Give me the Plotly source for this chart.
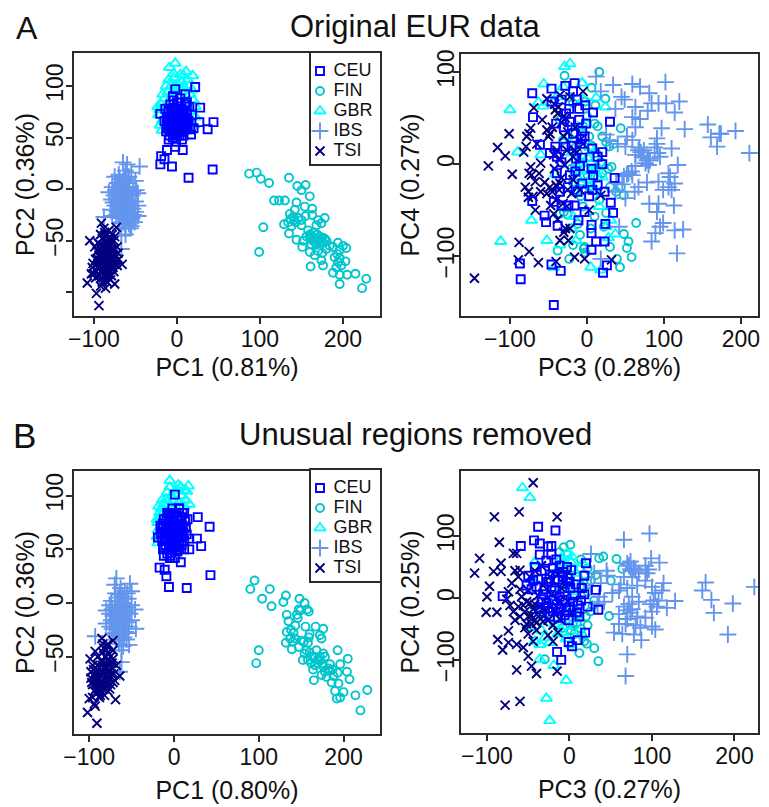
import plotly.graph_objects as go

GROUPS = ["CEU", "FIN", "GBR", "IBS", "TSI"]
COLORS = {"CEU": "#0000ff", "FIN": "#00c5cd", "GBR": "#00ffff", "IBS": "#6495ed", "TSI": "#000080"}
SYMBOLS = {"CEU": "square-open", "FIN": "circle-open", "GBR": "triangle-up-open", "IBS": "cross-thin-open", "TSI": "x-thin-open"}
SIZES = {"CEU": 8, "FIN": 8, "GBR": 10, "IBS": 12, "TSI": 9}
DRAW_ORDER = ["FIN", "GBR", "IBS", "TSI", "CEU"]

# Panel A, PC1 / PC2
A12_CEU = [(22,99),(-2,97),(10,92),(-5,90),(28,79),(27,65),(44,65),(37,58),(20,59),(17,53),(-20,73),(43,19),(14,11),(-6,22),(-20,24),(-19,32),(-15,29),(-12,38),(7,38),(-10,48),(6,48),(-2,41),
(-14,78),(-12,70),(-10,62),(-8,82),(-6,74),(-4,66),(-2,58),(0,84),(2,76),(4,68),(6,60),(8,52),(10,82),(12,74),(14,66),(16,58),(-13,56),(-9,52),(-5,50),(-1,46),(3,52),(-11,66),(-7,60),(-3,72),(1,64),(5,78),(9,70),(13,62),(15,80),(18,72),(-15,66),(-8,70),(-1,78),(3,60),(7,66),(11,58),(-4,86),(4,88),(-6,56),(0,70),(6,74),(-10,76),(2,56),(12,84),
(-9,67),(-5,61),(-1,67),(3,71),(7,57),(11,67),(-7,77),(-3,63),(1,73),(5,63),(9,59),(-11,59),(-6,68),(-2,75),(2,61),(6,69),(10,63),(-8,57),(-4,79),(0,54),(4,73),(8,75),(12,69),(-12,62),(-3,53),(1,59),(5,55),(9,65),(-7,64),(-1,62)]
A12_FIN = [(87,15),(96,16),(101,10),(111,6),(135,11),(145,3),(155,4),(150,-1),(160,-7),(117,-11),(123,-11),(130,-11),(144,-13),(154,-17),(163,-19),(142,-20),(136,-24),(140,-27),(155,-26),(163,-25),(178,-28),(104,-37),(99,-61),(129,-34),(134,-32),(143,-32),(150,-35),(135,-43),(144,-49),(152,-50),(151,-56),(158,-40),(162,-45),(168,-35),(174,-33),(166,-48),(172,-51),(178,-48),(184,-55),(194,-52),(200,-55),(204,-57),(196,-59),(160,-61),(166,-64),(174,-69),(176,-74),(161,-75),(190,-66),(194,-71),(203,-70),(188,-81),(196,-83),(205,-83),(215,-82),(228,-87),(196,-92),(223,-96),
(160,-44),(164,-50),(168,-54),(172,-46),(176,-52),(180,-50),(162,-54),(170,-60),(180,-58),(188,-56),(156,-46),(150,-30),(138,-36),(146,-28),(192,-76),(198,-74),(170,-30),(165,-42),(175,-62),(141,-30),(137,-29),(163,-47),(167,-51),(171,-49),(175,-47),(161,-48),(169,-44),(196,-67),(193,-63)]
A12_GBR = [(-2,122),(-9,118),(11,114),(19,110),(4,111),(-4,108),(6,104),(13,106),(-7,100),(1,102),(9,98),(-11,94),(-3,95),(16,92),(-15,88),(-7,88),(2,90),(20,86),(-19,82),(-23,80),(-12,80),(12,84),(22,80),(-22,72),(-18,57),(-18,66),(-20,62),(22,70),(20,62),(-4,112),(8,110),(-13,100),(15,100),(-1,98),(5,95),(-10,106),(-17,92),(18,96),(-21,77),(17,76)]
A12_IBS = [(-65,26),(-60,24),(-45,22),(-62,18),(-70,14),(-55,16),(-58,12),(-75,12),(-50,8),(-65,8),(-72,6),(-60,6),(-82,-3),(-78,2),(-70,0),(-64,2),(-57,2),(-49,-1),(-47,-4),(-76,-6),(-68,-6),(-61,-4),(-54,-6),(-79,-10),(-72,-12),(-66,-10),(-59,-10),(-50,-12),(-75,-16),(-68,-16),(-62,-16),(-55,-16),(-47,-16),(-80,-20),(-72,-22),(-64,-22),(-58,-22),(-50,-22),(-78,-26),(-70,-28),(-62,-28),(-54,-28),(-47,-26),(-66,-32),(-58,-34),(-51,-32),(-88,-27),(-62,-38),(-55,-36),(-67,-45),(-67,-58),(-70,-38),(-66,-2),(-58,-6),(-72,-4),(-63,12),(-56,-24),
(-74,-1),(-69,-9),(-63,-7),(-56,-11),(-53,-19),(-77,-13),(-71,-17),(-65,-19),(-59,-17),(-73,-25),(-67,-24),(-60,-25),(-52,-25),(-69,-33),(-63,-33),(-55,-30),(-60,0),(-67,4),(-53,-2),(-73,-9),(-57,-14),(-64,-14),(-70,-20),(-61,-20),(-66,-27),(-58,-28),(-56,-38),(-62,-44),(-69,10),(-61,10)]
A12_TSI = [(-108,-91),(-94,-113),(-97,-101),(-75,-92),(-66,-73),(-91,-33),(-73,-37),(-105,-50),(-103,-82),(-98,-86),(-92,-94),(-86,-96),(-80,-88),(-88,-38),(-82,-40),(-92,-44),(-86,-46),(-78,-44),(-95,-52),(-89,-54),(-83,-52),(-76,-50),(-96,-60),(-90,-62),(-84,-60),(-78,-58),(-72,-56),(-98,-68),(-92,-70),(-86,-68),(-80,-66),(-74,-64),(-70,-68),(-102,-76),(-96,-76),(-90,-78),(-84,-76),(-78,-74),(-72,-74),(-100,-82),(-94,-84),(-88,-84),(-82,-82),(-76,-80),(-90,-90),(-84,-90),(-88,-58),(-80,-48),(-86,-72),(-92,-58),(-76,-68),(-82,-56),(-90,-48),(-94,-64),(-84,-84),
(-99,-56),(-93,-66),(-87,-50),(-81,-62),(-75,-58),(-95,-72),(-89,-74),(-83,-70),(-77,-76),(-71,-62),(-101,-72),(-97,-80),(-91,-86),(-85,-80),(-79,-84),(-73,-70),(-87,-42),(-81,-46),(-75,-46),(-93,-54),(-85,-64),(-79,-52),(-89,-66),(-83,-78),(-77,-64),(-91,-72),(-95,-68),(-81,-74),(-87,-60),(-93,-76),(-86,-56),(-80,-58),(-90,-68),(-84,-68),(-78,-68),(-88,-78),(-82,-64),(-76,-72),(-92,-62),(-86,-84)]

# Panel A, PC3 / PC4
A34_CEU = [(-43,-153),(-86,-125),(-87,-108),(-46,-109),(-34,-116),(21,-118),(26,-110),(6,-93),(12,-84),(23,-84),(6,-75),(6,-66),(24,-65),(-11,-61),(-38,-67),(-53,-63),(-55,-56),(-3,-52),(34,-53),(31,-42),(-16,-45),(-24,-45),(-43,-41),(-71,-40),(7,-28),(23,-30),(14,-23),(-6,-21),(36,-15),(8,-12),(6,-5),(20,0),(14,8),(20,13),(7,17),(-6,7),(-61,21),(-70,51),(-71,77),(-46,82),(-28,85),(-16,88),(-18,79),(-46,68),(-23,60),(-10,60),(-2,64),(8,56),(30,46),(-10,48),(-22,46),(-1,44),(-6,36),(-18,33),(-7,27),(-28,19),(-41,19),(-14,6),(-39,8),(-39,-10),(-25,-25),(-15,-8),(-30,40),(-35,-30),(-8,22),(-33,70),(-3,30),(-27,55),(-13,70),(-40,44),(3,-35),(-12,-30),(-33,-45),(-20,20),(-48,12),(-33,2),(-9,-2),(-22,-12)]
A34_FIN = [(16,100),(-29,96),(6,83),(24,71),(11,64),(44,39),(14,41),(35,22),(29,19),(32,-3),(44,-25),(48,-34),(64,-64),(48,-76),(54,-84),(52,-91),(58,-101),(39,-103),(43,-112),(-3,-90),(-38,-94),(-23,-103),(-9,-77),(10,-57),(25,-53),(-35,-54),(-5,41),(3,30),(12,12),(3,8),(-14,19),(-31,26),(20,-10),(3,-25),(16,-39),(-5,-46),(-22,73),(-18,66),(-35,48),(-4,-92),(-2,-96),(28,-5),(10,44),(6,20),(25,24),(-10,2),(8,-5),(14,-15),(-18,-20),(-25,-55),(-30,-52),(-12,-65),(30,-25),(38,-30),(20,30),(-2,68),(5,-70),(30,-90),(-25,30),(-15,34),(-20,-5),(-12,12),(1,-12),(18,2),(0,52),(-8,-35),(22,-68),(-18,-88)]
A34_GBR = [(-29,106),(-22,109),(-56,87),(-6,88),(-100,59),(-63,67),(-57,63),(12,72),(24,62),(-90,13),(-60,10),(-112,-84),(-52,-83),(-72,-61),(5,-112),(-43,-112),(18,-115),(37,-76),(16,-46),(-41,-11),(-5,1),(3,-17),(-14,-3),(20,-14),(-35,-88),(-14,-83),(-31,84),(-39,73),(-1,44),(-26,30),(8,-25),(25,-68),(31,-61),(-18,-57),(-8,-8),(2,6),(10,-8),(-20,12),(-12,40),(4,18),(12,-30),(-15,-30),(28,-80),(-5,70),(-20,-70),(-8,-20),(-1,-6),(6,-22),(-11,-16),(13,-2)]
A34_IBS = [(12,95),(34,86),(102,89),(59,87),(69,84),(18,79),(81,77),(45,73),(49,70),(120,68),(103,66),(84,66),(63,62),(37,60),(93,66),(79,58),(114,56),(59,51),(69,49),(63,40),(127,38),(97,39),(157,43),(174,33),(161,29),(193,36),(169,19),(211,12),(25,32),(52,30),(59,26),(91,28),(91,22),(110,17),(50,19),(67,15),(74,15),(63,10),(95,8),(78,4),(80,-1),(63,-2),(118,-1),(54,-10),(59,-12),(106,-10),(114,-21),(78,-20),(93,-19),(67,-25),(99,-28),(106,-25),(37,-30),(50,-37),(81,-43),(93,-43),(113,-45),(91,-52),(42,-68),(99,-64),(95,-68),(114,-72),(125,-71),(89,-75),(84,-84),(117,-97),(18,-103),(110,-28),(172,33),(72,8),(82,4),(92,12),(88,18),(70,13),(48,-13),(58,-8),(62,-30),(108,-14),(30,25),(38,-20),(40,22),(46,-22),(76,1),(80,6),(52,-11),(68,18)]
A34_TSI = [(-146,-124),(-128,-2),(-116,18),(-106,9),(-101,33),(-97,-11),(-88,-85),(-89,-104),(-75,-95),(-63,-107),(-40,-106),(-16,-101),(-3,-103),(32,-104),(-35,-83),(-24,-83),(-28,-70),(-22,-70),(-69,61),(-52,71),(-82,13),(-78,30),(-73,39),(-75,33),(-79,19),(-65,22),(-58,48),(-48,33),(-41,59),(-37,62),(-35,75),(-28,50),(-22,73),(-5,79),(-9,26),(-5,22),(-73,-3),(-75,-10),(-60,1),(-62,-10),(-67,-19),(-80,-25),(-76,-36),(-67,-50),(-52,-32),(-48,-25),(-40,-23),(-35,-21),(-40,-39),(-31,-43),(-26,-46),(-43,-54),(-18,-17),(-20,-32),(-9,-28),(3,-50),(18,-34),(-43,10),(-35,6),(-39,15),(-26,15),(-16,15),(-29,-1),(-18,8),(-14,12),(-52,37),(-50,30),(-45,40),(-33,45),(-38,55),(-30,30),(-25,35),(-15,40),(-33,-15),(-42,-5),(-55,-20),(-60,-30),(-70,-35),(-47,-45),(-38,-60),(-76,-30),(-72,-12),(-30,-74),(-45,-30),(-36,-28),(-25,-28),(-42,65),(-30,52)]

# Panel B, PC1 / PC2
B12_CEU = [(1,101),(28,80),(42,71),(-19,61),(27,60),(32,53),(18,50),(43,26),(-6,15),(15,14),(-9,25),(-17,33),(-11,31),(8,38),(-5,42),(-13,50),(-8,84),(-2,88),(6,88),(12,84),(16,78),(-16,72),(-12,78),(-6,76),(0,82),(8,78),(14,70),(-14,66),(-10,70),(-4,68),(2,74),(10,72),(15,64),(18,60),(-14,58),(-10,62),(-4,60),(2,66),(8,64),(12,58),(-12,52),(-6,54),(0,58),(6,56),(12,50),(-8,46),(-2,50),(4,48),(-4,44),(1,42),(6,88),(-8,68),(4,80),(-2,72),(6,62),(-6,82),(9,54),(-10,54),(2,52),(-16,64),(-2,64),(5,70),(10,84),(-12,44),
(-9,78),(-3,84),(3,84),(8,70),(-7,72),(-1,76),(-13,74),(11,66),(-11,66),(-5,64),(1,70),(7,74),(13,76),(-8,60),(-2,56),(4,60),(10,62),(-6,50),(0,52),(6,50),(-11,58),(-3,47),(3,56),(-1,62),(4,68),(-5,80),(9,80),(-14,70),(-9,64),(-4,74)]
B12_FIN = [(95,21),(90,13),(113,13),(104,4),(132,7),(129,1),(148,4),(154,0),(115,-3),(147,-6),(157,-6),(133,-11),(145,-11),(149,-7),(159,-8),(135,-17),(143,-21),(155,-22),(167,-22),(176,-24),(133,-27),(141,-28),(132,-37),(139,-43),(147,-41),(153,-36),(159,-32),(174,-33),(100,-44),(97,-56),(193,-44),(154,-47),(158,-53),(152,-53),(165,-50),(172,-50),(178,-50),(184,-57),(196,-57),(205,-52),(164,-62),(174,-67),(180,-69),(188,-68),(204,-64),(207,-71),(165,-72),(186,-74),(194,-75),(190,-82),(200,-83),(192,-89),(196,-88),(214,-86),(228,-81),(220,-100),(169,-56),(176,-59),(182,-61),(138,-25),(137,-33),(143,-33),(160,-46),(168,-44),(162,-56),(172,-54),(178,-64),(187,-62),(172,-30),(160,-29),(150,-35),(146,-14),(158,-37),(166,-58),(193,-65),(163,-50),(170,-52),(175,-56),(156,-44),(140,-36),(184,-63),(176,-47)]
B12_GBR = [(-5,114),(17,109),(12,105),(3,105),(-9,97),(-17,84),(-19,75),(-19,56),(9,100),(-3,100),(-12,92),(14,96),(-15,88),(5,94),(-6,92),(12,90),(-19,68),(-17,80),(-20,62),(-5,108),(8,108),(15,104),(-1,96),(18,92),(-18,90),(-8,103),(5,110),(-14,96),(-20,78)]
B12_IBS = [(-68,23),(-52,18),(-70,17),(-64,8),(-58,11),(-50,11),(-66,2),(-54,4),(-46,-6),(-76,-2),(-80,-7),(-80,-19),(-45,-24),(-53,-39),(-93,-31),(-62,-44),(-62,-55),(-64,-64),(-74,2),(-70,-4),(-62,-2),(-56,-4),(-50,-2),(-76,-10),(-70,-10),(-64,-8),(-58,-10),(-52,-10),(-74,-16),(-68,-16),(-62,-14),(-56,-16),(-50,-16),(-76,-22),(-70,-22),(-64,-20),(-58,-22),(-53,-22),(-72,-28),(-66,-28),(-60,-28),(-54,-28),(-68,-34),(-62,-34),(-56,-34),(-60,-40),(-65,-38),(-68,-8),(-60,-6),(-66,-22),(-72,-12),(-54,-18),
(-73,-6),(-67,-2),(-60,0),(-55,-8),(-61,-11),(-71,-18),(-65,-13),(-59,-17),(-73,-24),(-67,-25),(-62,-25),(-57,-27),(-69,-30),(-64,-31),(-59,-32),(-66,5),(-61,6),(-69,9),(-55,9),(-63,14)]
B12_TSI = [(-102,-102),(-91,-112),(-93,-96),(-100,-89),(-69,-90),(-64,-68),(-72,-35),(-85,-33),(-99,-52),(-93,-45),(-84,-38),(-78,-38),(-90,-50),(-84,-46),(-78,-46),(-72,-44),(-96,-58),(-90,-58),(-84,-54),(-78,-54),(-72,-52),(-98,-64),(-92,-64),(-86,-62),(-80,-60),(-74,-60),(-68,-58),(-98,-70),(-92,-70),(-86,-68),(-80,-68),(-74,-66),(-70,-72),(-96,-76),(-90,-76),(-84,-74),(-78,-74),(-72,-74),(-94,-82),(-88,-82),(-82,-80),(-76,-80),(-96,-88),(-88,-88),(-82,-86),(-94,-94),(-88,-70),(-82,-66),(-90,-62),(-76,-70),(-86,-54),(-80,-44),(-92,-80),(-86,-78),
(-95,-62),(-89,-66),(-83,-60),(-77,-64),(-71,-66),(-93,-72),(-87,-74),(-81,-72),(-75,-76),(-91,-68),(-85,-66),(-79,-70),(-73,-56),(-97,-74),(-89,-80),(-83,-78),(-77,-58),(-85,-58),(-81,-50),(-75,-50),(-79,-40),(-83,-42),(-87,-86),(-80,-76),(-88,-60),(-92,-76),(-76,-62),(-84,-64),(-78,-82),(-94,-68)]

# Panel B, PC3 / PC4
B34_CEU = [(-38,115),(-17,109),(-43,93),(-59,84),(-36,88),(-22,84),(-26,83),(-36,70),(-22,70),(20,56),(2,45),(18,36),(-81,3),(32,13),(18,6),(35,-19),(19,-56),(9,-23),(-1,-36),(-1,-71),(10,-68),(3,-78),(-15,-87),(-10,-100),(-28,60),(-16,62),(-42,50),(-30,44),(-20,48),(-8,42),(-50,36),(-38,30),(-26,26),(-14,30),(0,26),(8,22),(15,16),(-46,14),(-30,14),(-18,12),(-6,10),(6,4),(-34,-2),(-20,-4),(-8,-4),(14,-4),(-26,-16),(-12,-18),(0,-14),(10,-12),(22,-14),(-14,-32),(-4,-20),(-40,18),(-24,-30),(-18,28),(-3,50),(12,-30),(-12,52),(-2,32),(-24,38),(-32,6),(-12,2),(1,16),(-16,-10),(-6,-28),(-44,28),(-22,18),(-8,34),(4,-6),(-28,-8),(-36,-22),(-52,20),(-10,-16),(-20,-22)]
B34_FIN = [(1,86),(-7,82),(41,67),(36,64),(57,63),(64,47),(32,37),(50,28),(48,-29),(30,-81),(21,-74),(35,-102),(12,-89),(-30,-99),(14,62),(22,48),(26,28),(22,10),(-2,70),(10,34),(4,-42),(14,-50),(6,-58),(22,-44),(28,-12),(10,-6),(-4,20),(-12,74),(18,-70),(8,-28),(20,-30),(2,-52),(-8,-48),(30,-4),(14,20),(18,38),(25,-22),(9,-40),(15,-60),(4,48)]
B34_GBR = [(-57,178),(-48,162),(3,67),(16,56),(-4,-133),(-28,-162),(-24,-198),(-19,-109),(-36,-99),(-36,-75),(-30,-64),(-42,-70),(-24,-72),(-14,-58),(-4,-66),(2,-76),(-8,56),(-3,72),(-14,44),(-2,34),(8,40),(-42,58),(-46,30),(-24,36),(-10,14),(4,10),(-30,-32),(-18,-42),(-6,-24),(8,-34),(-42,-20),(-20,-6),(2,-14),(-4,-46),(-46,-48),(12,-54),(-10,64),(2,58),(-8,-56),(-34,-52)]
B34_IBS = [(97,104),(66,94),(99,64),(109,57),(26,71),(74,59),(72,52),(78,48),(84,40),(92,52),(96,46),(165,25),(161,12),(224,18),(172,-3),(175,-24),(198,-9),(192,-59),(128,-5),(118,-16),(70,-91),(68,-126),(87,-68),(54,-56),(78,-59),(104,-51),(114,24),(45,44),(46,36),(30,40),(38,24),(60,12),(62,22),(52,8),(70,16),(82,20),(92,28),(100,18),(104,8),(108,-4),(98,-10),(76,2),(72,-10),(84,-6),(66,-14),(74,-24),(60,-26),(70,-34),(82,-30),(92,-32),(100,-22),(106,-14),(60,-42),(68,-42),(86,-48),(80,-44),(100,-46),(64,-58),(112,12),(76,34),(66,34),(36,2),(42,-6),(26,20),(34,-10),(80,44),(74,46),(70,56),(76,-18),(70,-20),(94,40),(102,-4)]
B34_TSI = [(-44,186),(-61,139),(-91,131),(-15,131),(-85,90),(-109,64),(-115,40),(-97,19),(-100,2),(-101,-23),(-88,-23),(-92,43),(-83,56),(-83,43),(-64,72),(-68,72),(-60,45),(-87,-67),(-81,-84),(-74,-53),(-74,-72),(-64,-75),(-64,-116),(-46,-110),(-40,-122),(-15,-118),(-60,-167),(-78,-173),(-50,-94),(-56,-80),(-20,-70),(-14,-56),(-76,-2),(-72,-12),(-68,-22),(-74,10),(-70,24),(-62,34),(-60,14),(-58,2),(-56,-12),(-60,-30),(-52,-42),(-50,-58),(-44,-70),(-40,-52),(-46,-28),(-48,-8),(-50,12),(-48,34),(-42,44),(-34,52),(-30,-28),(-34,-12),(-38,4),(-32,20),(-24,34),(-20,-44),(-26,-60),(-12,-34),(-16,-14),(-22,6),(-10,16),(-14,38),(-4,36),(-2,-6),(4,-24),(-66,-36),(-54,-48),(-42,-36),(-44,-18),(-28,-8),(-66,44),(-8,24),
(-54,-22),(-50,-30),(-46,-42),(-38,-24),(-36,-14),(-42,-10),(-52,-6),(-62,-14),(-30,-18),(-26,-36),(-18,-22),(-12,-4),(-24,-14),(-32,-38),(-40,-40)]

PANELS = [
    ("x", "y", {"CEU": A12_CEU, "FIN": A12_FIN, "GBR": A12_GBR, "IBS": A12_IBS, "TSI": A12_TSI}),
    ("x2", "y2", {"CEU": A34_CEU, "FIN": A34_FIN, "GBR": A34_GBR, "IBS": A34_IBS, "TSI": A34_TSI}),
    ("x3", "y3", {"CEU": B12_CEU, "FIN": B12_FIN, "GBR": B12_GBR, "IBS": B12_IBS, "TSI": B12_TSI}),
    ("x4", "y4", {"CEU": B34_CEU, "FIN": B34_FIN, "GBR": B34_GBR, "IBS": B34_IBS, "TSI": B34_TSI}),
]

# The page keeps an 8px body margin, so the paper starts at screen (8, 8).
OFF = 8
W, H = 769 + OFF, 807 + OFF
FONT = "Liberation Sans, Arial, sans-serif"
INK = "#2b2b2b"

def dom_x(a, b): return [(a - OFF) / W, (b - OFF) / W]
def dom_y(top, bottom): return [1 - (bottom - OFF) / H, 1 - (top - OFF) / H]

fig = go.Figure()
for xa, ya, data in PANELS:
    for g in DRAW_ORDER:
        pts = data[g]
        fig.add_trace(go.Scatter(
            x=[p[0] for p in pts], y=[p[1] for p in pts], mode="markers", name=g,
            xaxis=xa, yaxis=ya, showlegend=False,
            marker=dict(symbol=SYMBOLS[g], size=SIZES[g], color=COLORS[g], line=dict(width=1.9, color=COLORS[g])),
        ))

LEG_ROWS = [0, 1, 2, 3, 4]
for xa, ya in (("x5", "y5"), ("x6", "y6")):
    for g, r in zip(GROUPS, LEG_ROWS):
        fig.add_trace(go.Scatter(
            x=[9], y=[r], mode="markers", xaxis=xa, yaxis=ya, showlegend=False, name=g,
            marker=dict(symbol=SYMBOLS[g], size=SIZES[g], color=COLORS[g], line=dict(width=1.9, color=COLORS[g])),
        ))
        fig.add_trace(go.Scatter(
            x=[22.5], y=[r], mode="text", text=[g], textposition="middle right",
            textfont=dict(size=18, color="#111", family=FONT), xaxis=xa, yaxis=ya, showlegend=False, name=g,
        ))

def axis(dom, rng, vals, text, title, angle=0, standoff=8, lab=-5):
    return dict(domain=dom, range=rng, tickvals=vals, ticktext=text, tickangle=angle, showgrid=False, zeroline=False,
                showline=True, mirror=True, linecolor=INK, linewidth=2, ticks="outside", ticklen=6, tickwidth=1.5, tickcolor=INK,
                ticklabelstandoff=lab, tickfont=dict(size=23, color="#111", family=FONT),
                title=dict(text=title, font=dict(size=25, color="#111", family=FONT), standoff=standoff))

XV = [-100, 0, 100, 200]
XT = ["−100", "0", "100", "200"]
layout = dict(width=W, height=H, margin=dict(l=0, r=0, t=0, b=0, autoexpand=False), paper_bgcolor="white", plot_bgcolor="white",
              font=dict(family=FONT), showlegend=False)
layout["xaxis"] = axis(dom_x(74, 380), [-124, 244.6], XV, XT, "PC1 (0.81%)", 0, 8)
layout["yaxis"] = axis(dom_y(53, 316), [-123, 132], [-100, -50, 0, 50, 100], ["", "−50", "0", "50", "100"], "PC2 (0.36%)", -90, 0, -6)
layout["xaxis2"] = axis(dom_x(461, 758), [-163.5, 222.2], XV, XT, "PC3 (0.28%)", 0, 8)
layout["yaxis2"] = axis(dom_y(54, 316), [-165, 119.6], [-100, 0, 100], ["−100", "0", "100"], "PC4 (0.27%)", -90, 6, -10)
layout["xaxis3"] = axis(dom_x(74, 380), [-118, 243], XV, XT, "PC1 (0.80%)", 0, 13)
layout["yaxis3"] = axis(dom_y(471, 734), [-122, 123], [-50, 0, 50, 100], ["−50", "0", "50", "100"], "PC2 (0.36%)", -90, 0, -6)
layout["xaxis4"] = axis(dom_x(461, 758), [-131.5, 228.5], XV, XT, "PC3 (0.27%)", 0, 13)
layout["yaxis4"] = axis(dom_y(471, 733), [-218, 205], [-100, 0, 100], ["−100", "0", "100"], "PC4 (0.25%)", -90, 6, -10)
for i, y0 in ((5, 53), (6, 470)):
    layout[f"xaxis{i}"] = dict(domain=dom_x(311, 380), range=[0, 69], showticklabels=False, ticks="", showgrid=False, zeroline=False,
                               showline=True, mirror=True, linecolor=INK, linewidth=2, anchor=f"y{i}", fixedrange=True)
    layout[f"yaxis{i}"] = dict(domain=dom_y(y0, y0 + 111), range=[4.65, -0.9], showticklabels=False, ticks="", showgrid=False, zeroline=False,
                               showline=True, mirror=True, linecolor=INK, linewidth=2, anchor=f"x{i}", fixedrange=True)
for i in (2, 3, 4):
    layout[f"xaxis{i}"]["anchor"] = f"y{i}"
    layout[f"yaxis{i}"]["anchor"] = f"x{i}"

def label(text, x, y, size):
    return dict(text=text, x=(x - OFF) / W, y=1 - (y - OFF) / H, xref="paper", yref="paper", showarrow=False,
                font=dict(size=size, color="#111", family=FONT), xanchor="center", yanchor="middle")

layout["annotations"] = [
    label("A", 27, 28, 32), label("Original EUR data", 415, 27, 31),
    label("B", 24, 435, 35), label("Unusual regions removed", 416, 434, 31),
]
fig.update_layout(**layout)
fig.write_html("out.html", config={"displayModeBar": False})
